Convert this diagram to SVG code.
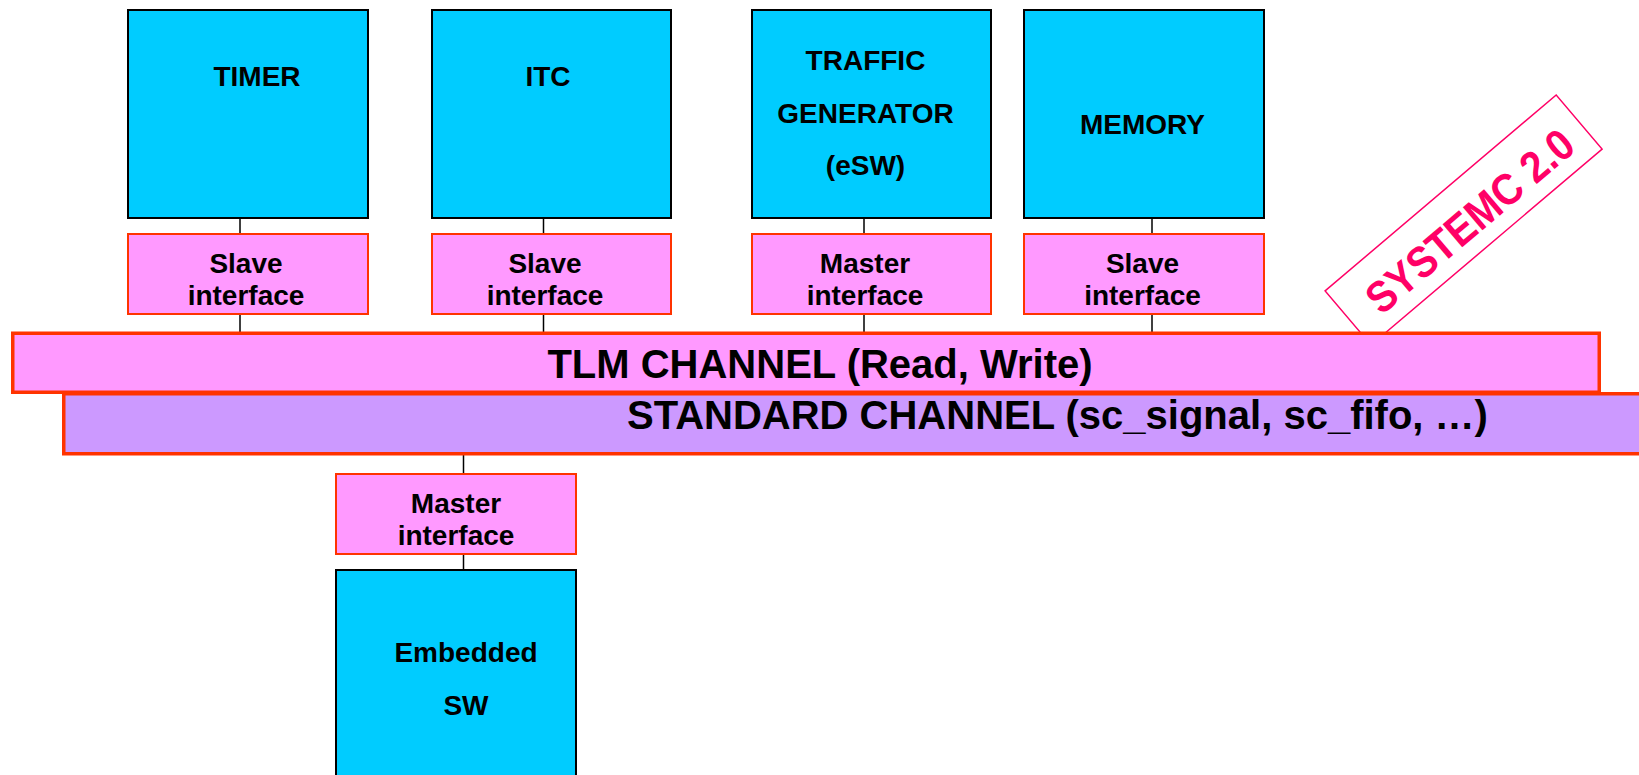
<svg xmlns="http://www.w3.org/2000/svg" width="1639" height="775" viewBox="0 0 1639 775">
  <style>
    .block { fill: #00ccff; stroke: #000000; stroke-width: 2; }
    .iface { fill: #ff99ff; stroke: #ff3300; stroke-width: 2; }
    .tlm { fill: #ff99ff; stroke: #ff3300; stroke-width: 3.5; }
    .std { fill: #cc99ff; stroke: #ff3300; stroke-width: 3.5; }
    .wire { stroke: #000000; stroke-width: 1.5; fill: none; }
    .lbl { font-family: "Liberation Sans", Arial, sans-serif; font-weight: bold; font-size: 28px; fill: #000000; text-anchor: middle; }
    .bus { font-family: "Liberation Sans", Arial, sans-serif; font-weight: bold; font-size: 40px; fill: #000000; }
    .stamp { fill: #ffffff; stroke: #ff0066; stroke-width: 1.5; }
    .stampText { font-family: "Liberation Sans", Arial, sans-serif; font-weight: bold; font-size: 44px; fill: #ff0066; text-anchor: middle; }
  </style>

  <!-- Connectors -->
  <g id="connectors">
    <line class="wire" x1="240" y1="218" x2="240" y2="234"/>
    <line class="wire" x1="240" y1="314" x2="240" y2="333"/>
    <line class="wire" x1="543.5" y1="218" x2="543.5" y2="234"/>
    <line class="wire" x1="543.5" y1="314" x2="543.5" y2="333"/>
    <line class="wire" x1="864" y1="218" x2="864" y2="234"/>
    <line class="wire" x1="864" y1="314" x2="864" y2="333"/>
    <line class="wire" x1="1152" y1="218" x2="1152" y2="234"/>
    <line class="wire" x1="1152" y1="314" x2="1152" y2="333"/>
    <line class="wire" x1="463.5" y1="455" x2="463.5" y2="474"/>
    <line class="wire" x1="463.5" y1="554" x2="463.5" y2="570"/>
  </g>

  <!-- SystemC 2.0 stamp (partly hidden by the TLM channel) -->
  <g id="systemc-stamp" transform="translate(1463.6,220) rotate(-40.3)">
    <rect class="stamp" x="-151.5" y="-35.5" width="303" height="71"/>
    <text class="stampText" transform="translate(4,20) scale(0.9,1)" x="0" y="0">SYSTEMC 2.0</text>
  </g>

  <!-- Standard channel -->
  <g id="standard-channel">
    <rect class="std" x="63.75" y="393.75" width="1600" height="60"/>
    <text class="bus" x="627" y="428.5">STANDARD CHANNEL (sc_signal, sc_fifo, …)</text>
  </g>

  <!-- TLM channel -->
  <g id="tlm-channel">
    <rect class="tlm" x="12.75" y="333.25" width="1586.5" height="59"/>
    <text class="bus" x="820" y="378" text-anchor="middle">TLM CHANNEL (Read, Write)</text>
  </g>

  <!-- Modules -->
  <g id="timer">
    <rect class="block" x="128" y="10" width="240" height="208"/>
    <text class="lbl" x="257" y="86">TIMER</text>
  </g>
  <g id="timer-if">
    <rect class="iface" x="128" y="234" width="240" height="80"/>
    <text class="lbl" x="246" y="273">Slave</text>
    <text class="lbl" x="246" y="305">interface</text>
  </g>

  <g id="itc">
    <rect class="block" x="432" y="10" width="239" height="208"/>
    <text class="lbl" x="548" y="86">ITC</text>
  </g>
  <g id="itc-if">
    <rect class="iface" x="432" y="234" width="239" height="80"/>
    <text class="lbl" x="545" y="273">Slave</text>
    <text class="lbl" x="545" y="305">interface</text>
  </g>

  <g id="traffic-generator">
    <rect class="block" x="752" y="10" width="239" height="208"/>
    <text class="lbl" x="865.5" y="70">TRAFFIC</text>
    <text class="lbl" x="865.5" y="122.5">GENERATOR</text>
    <text class="lbl" x="865.5" y="175">(eSW)</text>
  </g>
  <g id="traffic-if">
    <rect class="iface" x="752" y="234" width="239" height="80"/>
    <text class="lbl" x="865" y="273">Master</text>
    <text class="lbl" x="865" y="305">interface</text>
  </g>

  <g id="memory">
    <rect class="block" x="1024" y="10" width="240" height="208"/>
    <text class="lbl" x="1142.5" y="134">MEMORY</text>
  </g>
  <g id="memory-if">
    <rect class="iface" x="1024" y="234" width="240" height="80"/>
    <text class="lbl" x="1142.5" y="273">Slave</text>
    <text class="lbl" x="1142.5" y="305">interface</text>
  </g>

  <g id="embedded-if">
    <rect class="iface" x="336" y="474" width="240" height="80"/>
    <text class="lbl" x="456" y="513">Master</text>
    <text class="lbl" x="456" y="544.5">interface</text>
  </g>
  <g id="embedded-sw">
    <rect class="block" x="336" y="570" width="240" height="215"/>
    <text class="lbl" x="466" y="661.5">Embedded</text>
    <text class="lbl" x="466" y="715">SW</text>
  </g>
</svg>
